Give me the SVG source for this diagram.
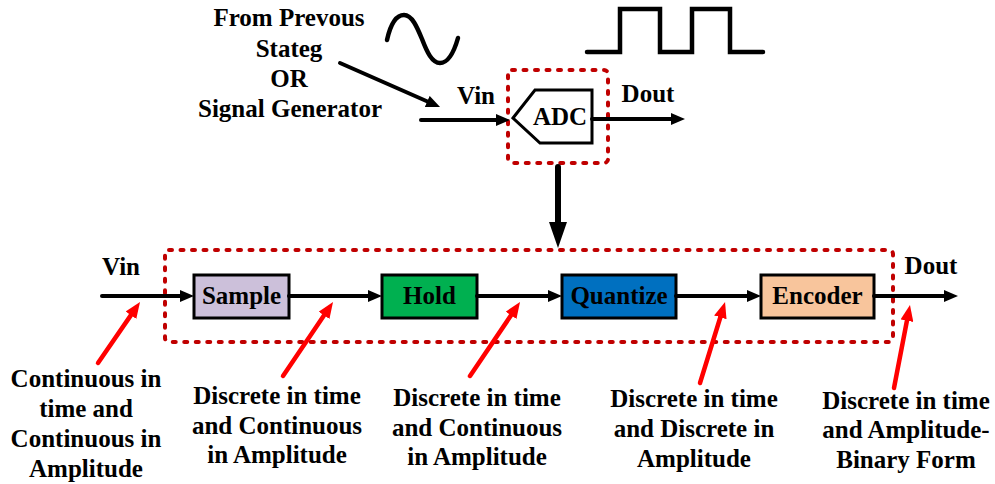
<svg xmlns="http://www.w3.org/2000/svg" width="995" height="484" viewBox="0 0 995 484">
<style>
  text { font-family: "Liberation Serif", "Times New Roman", serif; font-weight: bold; font-size: 25px; fill: #000; text-anchor: middle; }
  .blk { stroke: #000; stroke-width: 3; }
  .dash { fill: none; stroke: #c00000; stroke-width: 4; stroke-dasharray: 3 8.5; stroke-linecap: round; }
  .wire { fill: none; stroke: #000; stroke-width: 4; stroke-linecap: round; }
  .red { fill: none; stroke: #ff0000; stroke-width: 4.5; stroke-linecap: round; }
  .wave { fill: none; stroke: #000; stroke-width: 4.5; stroke-linecap: round; }
</style>
<defs>
  <marker id="ah" markerUnits="userSpaceOnUse" markerWidth="14" markerHeight="12" refX="4" refY="6" orient="auto">
    <path d="M0,0 L14,6 L0,12 z" fill="#000"/>
  </marker>
  <marker id="rh" markerUnits="userSpaceOnUse" markerWidth="16" markerHeight="13" refX="4" refY="6.5" orient="auto">
    <path d="M0,0 L16,6.5 L0,13 z" fill="#ff0000"/>
  </marker>
</defs>

<rect width="995" height="484" fill="#fff"/>

<!-- top signals -->
<g id="sine">
  <path class="wave" d="M387,40 C391,22 397,15 404,15 C412,15 417,27 422,39 C427,52 432,63 440,63 C448,63 454,52 458,38"/>
</g>
<g id="square">
  <path class="wave" stroke-linejoin="miter" d="M587,52 H620 V9 H660 V52 H692 V9 H730 V52 H763"/>
</g>

<g id="source-label">
  <text x="289" y="26">From Prevous</text>
  <text x="289" y="57">Stateg</text>
  <text x="289" y="87">OR</text>
  <text x="290" y="117">Signal Generator</text>
</g>

<g id="top-vin"><text x="476" y="104">Vin</text></g>
<g id="top-dout"><text x="648" y="102">Dout</text></g>

<g id="adc-frame">
  <rect class="dash" x="508" y="70" width="100" height="93" rx="4"/>
</g>
<g id="adc">
  <path d="M513,118 L535,90 H592 V143 H540 Z" fill="#fff" stroke="#000" stroke-width="3" stroke-linejoin="miter"/>
  <text x="560" y="125">ADC</text>
</g>

<!-- bottom chain -->
<g id="chain-frame">
  <rect class="dash" x="165" y="250" width="728" height="92" rx="4"/>
</g>

<g id="bottom-vin"><text x="121" y="275">Vin</text></g>
<g id="bottom-dout"><text x="931" y="274">Dout</text></g>

<g id="sample">
  <rect class="blk" x="194" y="275" width="95" height="43" fill="#ccc0da"/>
  <text x="241.5" y="304">Sample</text>
</g>
<g id="hold">
  <rect class="blk" x="382" y="275" width="95" height="43" fill="#00b050"/>
  <text x="429.5" y="304">Hold</text>
</g>
<g id="quantize">
  <rect class="blk" x="562" y="275" width="114" height="43" fill="#0070c0"/>
  <text x="619" y="304">Quantize</text>
</g>
<g id="encoder">
  <rect class="blk" x="761" y="275" width="113" height="43" fill="#f8c59c"/>
  <text x="817.5" y="304">Encoder</text>
</g>

<g id="connectors">
  <!-- top -->
  <line class="wire" x1="340" y1="63" x2="430.9" y2="103" marker-end="url(#ah)"/>
  <line class="wire" x1="421" y1="120" x2="500" y2="120" marker-end="url(#ah)"/>
  <line class="wire" x1="592" y1="119" x2="675" y2="119" marker-end="url(#ah)"/>
  <!-- down arrow -->
  <line x1="558" y1="167" x2="558" y2="226" stroke="#000" stroke-width="6" stroke-linecap="round"/>
  <polygon points="549,222 567,222 558,248" fill="#000"/>
  <!-- chain -->
  <line class="wire" x1="102" y1="296" x2="184" y2="296" marker-end="url(#ah)"/>
  <line class="wire" x1="289" y1="296" x2="372" y2="296" marker-end="url(#ah)"/>
  <line class="wire" x1="477" y1="296" x2="552" y2="296" marker-end="url(#ah)"/>
  <line class="wire" x1="676" y1="296" x2="751" y2="296" marker-end="url(#ah)"/>
  <line class="wire" x1="874" y1="296" x2="948" y2="296" marker-end="url(#ah)"/>
  <!-- red annotation arrows -->
  <line class="red" x1="98" y1="363" x2="133.2" y2="311.9" marker-end="url(#rh)"/>
  <line class="red" x1="283" y1="376" x2="326.3" y2="312" marker-end="url(#rh)"/>
  <line class="red" x1="470" y1="376" x2="513.3" y2="312" marker-end="url(#rh)"/>
  <line class="red" x1="700" y1="383" x2="721.5" y2="313.5" marker-end="url(#rh)"/>
  <line class="red" x1="894" y1="388" x2="907.7" y2="316.8" marker-end="url(#rh)"/>
</g>

<g id="label-1">
  <text x="86" y="387">Continuous in</text>
  <text x="86" y="417">time and</text>
  <text x="86" y="447">Continuous in</text>
  <text x="86" y="477">Amplitude</text>
</g>
<g id="label-2">
  <text x="277" y="404">Discrete in time</text>
  <text x="277" y="434">and Continuous</text>
  <text x="277" y="463">in Amplitude</text>
</g>
<g id="label-3">
  <text x="477" y="406">Discrete in time</text>
  <text x="477" y="436">and Continuous</text>
  <text x="477" y="465">in Amplitude</text>
</g>
<g id="label-4">
  <text x="694" y="407">Discrete in time</text>
  <text x="694" y="437">and Discrete in</text>
  <text x="694" y="467">Amplitude</text>
</g>
<g id="label-5">
  <text x="906" y="409">Discrete in time</text>
  <text x="906" y="438">and Amplitude-</text>
  <text x="906" y="468">Binary Form</text>
</g>
</svg>
